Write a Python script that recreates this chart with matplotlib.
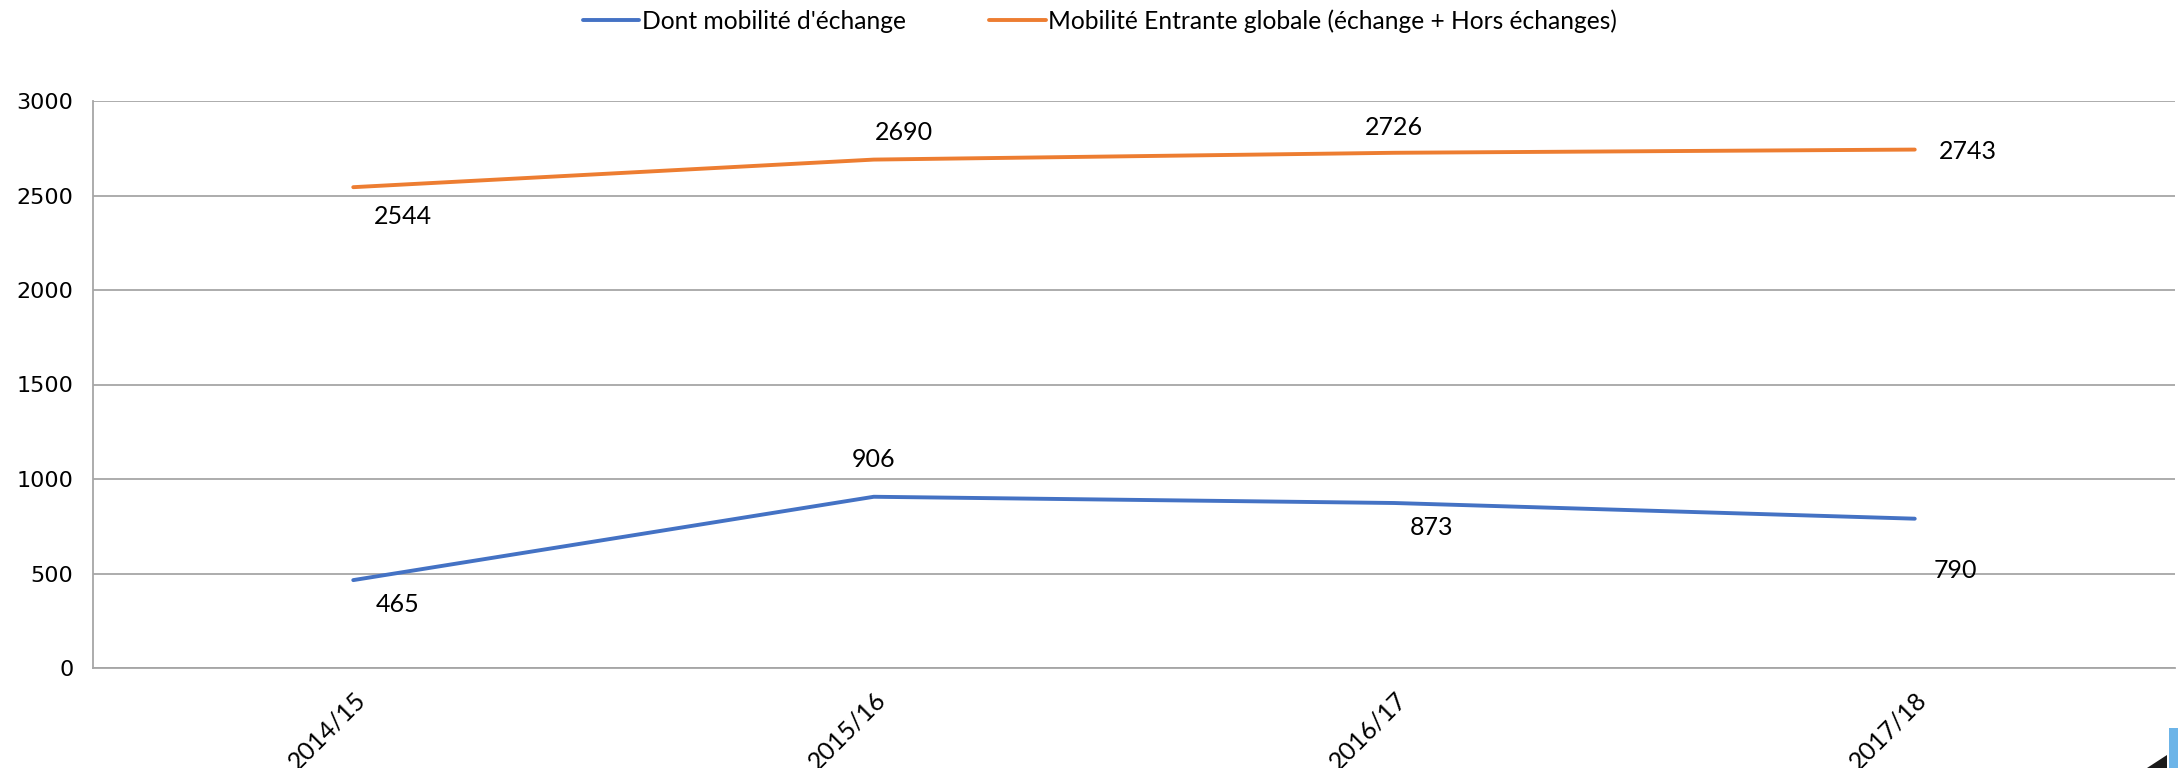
import matplotlib
matplotlib.use("Agg")
import matplotlib.pyplot as plt
from matplotlib.patches import Rectangle, Polygon

years = ["2014/15", "2015/16", "2016/17", "2017/18"]
echange = [465, 906, 873, 790]
globale = [2544, 2690, 2726, 2743]
name_echange = "Dont mobilité d'échange"
name_globale = "Mobilité Entrante globale (échange + Hors échanges)"
yticks = [0, 500, 1000, 1500, 2000, 2500, 3000]

# label offsets in pixels (dx, dy) relative to points
off_echange = [(44, -24), (0, 37), (37, -24), (41, -52)]
off_globale = [(50, -29), (30, 27), (0, 25), (53, -2)]

FONT = ['Lato', 'DejaVu Sans']

fig = plt.figure(figsize=(21.78, 7.68), dpi=100)
ax = fig.add_axes([93/2178, 1-668/768, (2175-93)/2178, (668-101)/768])

blue = '#4472C4'
orange = '#ED7D31'
x = list(range(len(years)))
l1, = ax.plot(x, echange, color=blue, lw=2.8, solid_capstyle='round', label=name_echange, zorder=3)
l2, = ax.plot(x, globale, color=orange, lw=2.8, solid_capstyle='round', label=name_globale, zorder=3)

for xi, v, (dx, dy) in zip(x, echange, off_echange):
    ax.annotate(str(v), (xi, v), xytext=(dx, dy), textcoords='offset pixels',
                ha='center', va='center', fontsize=18, family=FONT, color='black')
for xi, v, (dx, dy) in zip(x, globale, off_globale):
    ax.annotate(str(v), (xi, v), xytext=(dx, dy), textcoords='offset pixels',
                ha='center', va='center', fontsize=18, family=FONT, color='black')

ax.set_xlim(-0.5, 3.5)
ax.set_ylim(0, 3000)
ax.set_yticks(yticks)
ax.set_yticklabels([str(t) for t in yticks], fontsize=16, family='DejaVu Sans')
ax.set_xticks(x)
ax.set_xticklabels(years, rotation=45, ha='right', rotation_mode='anchor',
                   fontsize=18, family=FONT)
ax.tick_params(axis='both', length=0)
ax.tick_params(axis='y', pad=14)
ax.tick_params(axis='x', pad=14)
ax.grid(axis='y', color='#A6A6A6', lw=1.3, zorder=0)
for s in ['top', 'right']:
    ax.spines[s].set_visible(False)
for s in ['left', 'bottom']:
    ax.spines[s].set_color('#A6A6A6')
    ax.spines[s].set_linewidth(1.3)

fig.legend(handles=[l1, l2], loc='center', bbox_to_anchor=(1100/2178, 1-21/768),
           ncol=2, frameon=False, prop={'family': FONT, 'size': 17.7},
           handlelength=2.3, handletextpad=0.1, columnspacing=3.4)

# decorative corner artifacts
fig.patches.append(Rectangle((2169/2178, 0), 9/2178, 40/768, transform=fig.transFigure,
                             facecolor='#6CB4E8', edgecolor='none'))
fig.patches.append(Polygon([(2147/2178, 0), (2167/2178, 0), (2167/2178, 13/768)],
                           closed=True, transform=fig.transFigure,
                           facecolor='#1a1a1a', edgecolor='none'))

fig.savefig('out.png', dpi=100)
